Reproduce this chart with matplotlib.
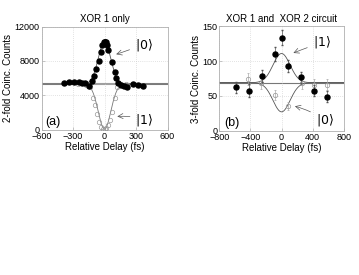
import numpy as np
import matplotlib
matplotlib.use("Agg")
import matplotlib.pyplot as plt

plt.rcParams['font.family'] = ['Liberation Sans', 'DejaVu Sans']

# ---- panel (a): XOR 1 only ----
a_delay_0 = [-390, -340, -295, -240, -210, -183, -151, -120, -98, -82, -54, -31, -22,
             -8, 0, 8, 16, 25, 38, 73, 101, 114, 130, 154, 186, 215, 268, 315, 369]
a_counts_0 = [5410, 5490, 5530, 5490, 5450, 5410, 5100, 5650, 6240, 7020, 8000, 9020, 9880,
              10150, 10250, 10200, 10150, 9880, 9300, 7920, 6740, 5960, 5410, 5140, 5020, 4980, 5250, 5140, 5020]
a_delay_1 = [-250, -180, -140, -110, -95, -75, -55, -30, -10, 0, 10, 35, 55, 75, 100, 120, 150, 200]
a_counts_1 = [5300, 5200, 4950, 3700, 2800, 1800, 900, 300, 100, 60, 150, 500, 1100, 2100, 3700, 4900, 5250, 5300]
a_base, a_amp_0, a_amp_1, a_sigma = 5300, 4900, -5250, 60

# ---- panel (b): XOR 1 and XOR 2 circuit ----
b_delay_1 = [-581, -418, -250, -86, 0, 81, 253, 413, 581]
b_counts_1 = [62.5, 57.6, 78.8, 110.5, 133.6, 93.2, 77, 57.6, 48.6]
b_err_1 = [8, 9, 9, 10, 11, 9, 8, 8, 8]
b_delay_0 = [-431, -258, -80, 85, 258, 413, 581]
b_counts_0 = [74, 68, 51, 35, 68, 66, 66]
b_err_0 = [9, 8, 7, 6, 8, 8, 8]
b_base, b_amp_1, b_amp_0, b_sigma = 69, 42, -42, 110

fig = plt.figure(figsize=(3.59, 2.75), dpi=100)
ax1 = fig.add_axes([0.1156, 0.529, 0.351, 0.3745])
ax2 = fig.add_axes([0.611, 0.525, 0.3465, 0.379])

fs = 6.5
for ax in (ax1, ax2):
    for s in ax.spines.values():
        s.set_color('#b0b0b0')
        s.set_linewidth(0.6)
    ax.tick_params(direction='in', length=2, width=0.5, color='#b0b0b0', labelsize=fs, pad=1.5)
    ax.grid(True, linestyle=(0, (1, 2)), color='#c8c8c8', linewidth=0.5)

# panel (a)
t = np.linspace(-600, 600, 400)
ax1.axhline(a_base, color='#a0a0a0', linewidth=1.5, zorder=1)
ax1.plot(t, a_base + a_amp_0 * np.exp(-t**2 / (2 * a_sigma**2)), color='#555555', linewidth=0.6, zorder=2)
ax1.plot(t, a_base + a_amp_1 * np.exp(-t**2 / (2 * a_sigma**2)), color='#777777', linewidth=0.6, zorder=2)
ax1.plot(a_delay_1, a_counts_1, 'o', mfc='none', mec='#999999', ms=3.2, mew=0.5, zorder=3)
ax1.plot(a_delay_0, a_counts_0, 'o', color='black', ms=3.6, zorder=4)
ax1.set_xlim(-600, 600)
ax1.set_ylim(0, 12000)
ax1.set_xticks([-600, -300, 0, 300, 600])
ax1.set_yticks([0, 4000, 8000, 12000])
ax1.set_title('XOR 1 only', fontsize=7, pad=3)
ax1.set_xlabel('Relative Delay (fs)', fontsize=7, labelpad=1)
ax1.set_ylabel('2-fold Coinc. Counts', fontsize=7, labelpad=1)
ax1.text(-560, 500, '(a)', fontsize=9)
ax1.annotate(r'$|0\rangle$', xy=(85, 8700), xytext=(290, 9900), fontsize=9, va='center',
             arrowprops=dict(arrowstyle='->', color='#555555', lw=0.5,
                             connectionstyle='angle3,angleA=20,angleB=-40'))
ax1.annotate(r'$|1\rangle$', xy=(95, 1500), xytext=(295, 1150), fontsize=9, va='center',
             arrowprops=dict(arrowstyle='->', color='#555555', lw=0.5,
                             connectionstyle='arc3,rad=0.1'))

# panel (b)
t2 = np.linspace(-800, 800, 400)
ax2.axhline(b_base, color='#777777', linewidth=0.8, zorder=1)
ax2.plot(t2, b_base + b_amp_1 * np.exp(-t2**2 / (2 * b_sigma**2)), color='#555555', linewidth=0.6, zorder=2)
ax2.plot(t2, b_base + b_amp_0 * np.exp(-t2**2 / (2 * b_sigma**2)), color='#555555', linewidth=0.6, zorder=2)
ax2.errorbar(b_delay_0, b_counts_0, yerr=b_err_0, fmt='o', mfc='none', mec='#999999', ecolor='#aaaaaa',
             ms=3.2, mew=0.5, elinewidth=0.5, capsize=1, zorder=3)
ax2.errorbar(b_delay_1, b_counts_1, yerr=b_err_1, fmt='o', color='black', ecolor='#555555',
             ms=3.6, elinewidth=0.5, capsize=1, zorder=4)
ax2.set_xlim(-800, 800)
ax2.set_ylim(0, 150)
ax2.set_xticks([-800, -400, 0, 400, 800])
ax2.set_yticks([0, 50, 100, 150])
ax2.set_title('XOR 1 and  XOR 2 circuit', fontsize=7, pad=3)
ax2.set_xlabel('Relative Delay (fs)', fontsize=7, labelpad=1)
ax2.set_ylabel('3-fold Coinc. Counts', fontsize=7, labelpad=1)
ax2.text(-740, 6, '(b)', fontsize=9)
ax2.annotate(r'$|1\rangle$', xy=(120, 110), xytext=(400, 127), fontsize=9, va='center',
             arrowprops=dict(arrowstyle='->', color='#555555', lw=0.5,
                             connectionstyle='angle3,angleA=20,angleB=-40'))
ax2.annotate(r'$|0\rangle$', xy=(137, 36), xytext=(440, 15), fontsize=9, va='center',
             arrowprops=dict(arrowstyle='->', color='#555555', lw=0.5,
                             connectionstyle='arc3,rad=0.1'))

fig.savefig('out.png', dpi=100)
